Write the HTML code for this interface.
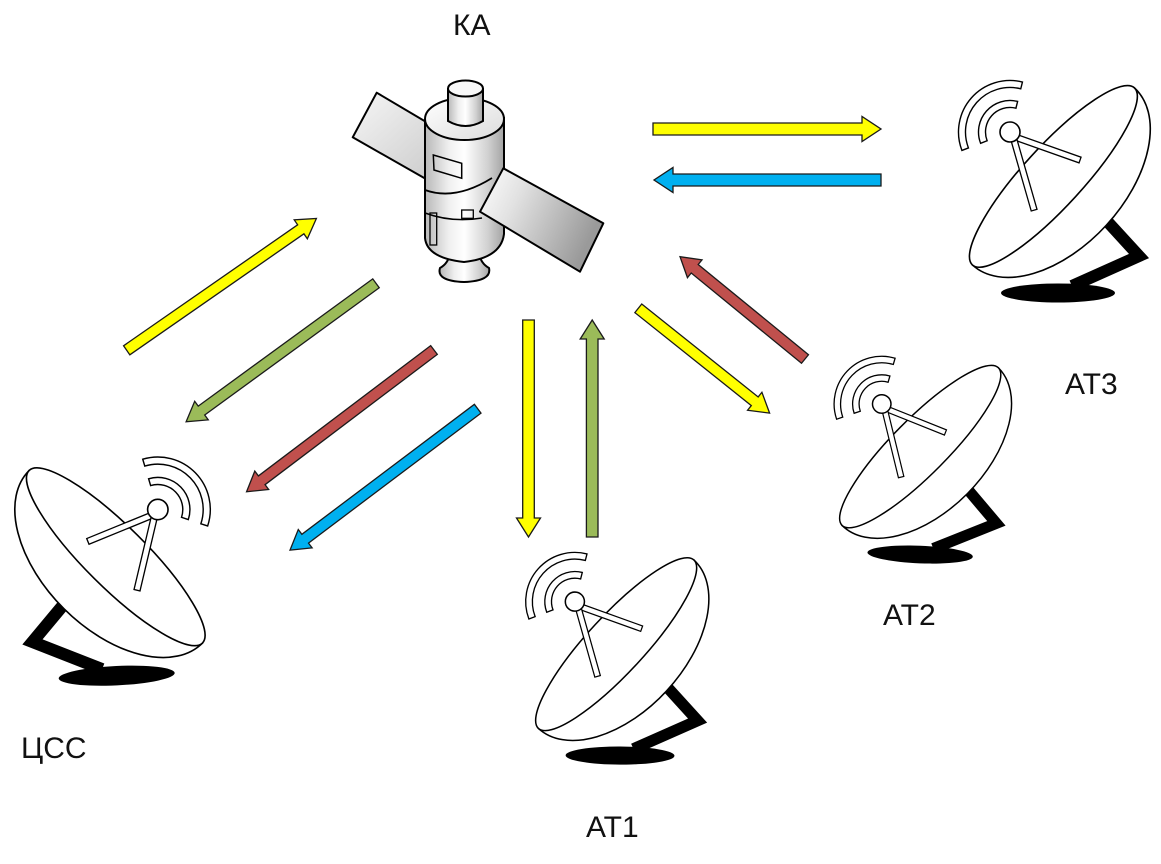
<!DOCTYPE html>
<html>
<head>
<meta charset="utf-8">
<style>
html,body{margin:0;padding:0;background:#fff;}
svg{display:block;}
text{font-family:"Liberation Sans", Arial, sans-serif;font-size:30px;fill:#111;}
</style>
</head>
<body>
<svg width="1161" height="864" viewBox="0 0 1161 864" xmlns="http://www.w3.org/2000/svg">
<defs>
  <linearGradient id="plL" x1="0" y1="0" x2="1" y2="1">
    <stop offset="0" stop-color="#f6f6f6"/>
    <stop offset="1" stop-color="#c4c4c4"/>
  </linearGradient>
  <linearGradient id="plR" x1="0" y1="0" x2="1" y2="0.4">
    <stop offset="0" stop-color="#ffffff"/>
    <stop offset="0.35" stop-color="#e2e2e2"/>
    <stop offset="1" stop-color="#9a9a9a"/>
  </linearGradient>
  <linearGradient id="bd" x1="0" y1="0" x2="1" y2="0">
    <stop offset="0" stop-color="#b8b8b8"/>
    <stop offset="0.3" stop-color="#efefef"/>
    <stop offset="0.5" stop-color="#ffffff"/>
    <stop offset="0.8" stop-color="#d0d0d0"/>
    <stop offset="1" stop-color="#a4a4a4"/>
  </linearGradient>
  <linearGradient id="tp" x1="0" y1="0" x2="1" y2="1">
    <stop offset="0" stop-color="#ffffff"/>
    <stop offset="1" stop-color="#dcdcdc"/>
  </linearGradient>

  <g id="dish">
    <ellipse cx="118" cy="233" rx="57" ry="9.5" fill="#000"/>
    <polyline points="166,160 199,196 132,226" fill="none" stroke="#000" stroke-width="12" stroke-linejoin="miter" stroke-miterlimit="10"/>
    <g transform="translate(107.5,111) rotate(-47.55)">
      <path d="M-120,8 A120,72 0 0 0 120,8 Z" fill="#fff" stroke="#000" stroke-width="1.6"/>
      <ellipse cx="0" cy="8" rx="120" ry="30" fill="#fff" stroke="#000" stroke-width="1.6"/>
    </g>
    <rect x="0" y="-3" width="69" height="6" transform="translate(75,77) rotate(19.5)" fill="#fff" stroke="#000" stroke-width="1.3"/>
    <rect x="0" y="-3" width="73" height="6" transform="translate(74,80) rotate(74)" fill="#fff" stroke="#000" stroke-width="1.3"/>
    <circle cx="70" cy="72" r="10" fill="#fff" stroke="#000" stroke-width="1.6"/>
    <path d="M21.92,90.46 A51.5,51.5 0 0 1 82.46,22.03 L80.76,28.82 A44.5,44.5 0 0 0 28.45,87.95 Z" fill="#fff" stroke="#000" stroke-width="1.4"/>
    <path d="M40.59,83.29 A31.5,31.5 0 0 1 77.62,41.44 L75.93,48.23 A24.5,24.5 0 0 0 47.13,80.78 Z" fill="#fff" stroke="#000" stroke-width="1.4"/>
  </g>
</defs>

<!-- Dishes -->
<use href="#dish" transform="translate(940,60)"/>
<use href="#dish" transform="translate(837,520) rotate(2.3) scale(0.925) translate(-26.7,-199.3)"/>
<use href="#dish" transform="translate(533,723) rotate(0.25) scale(0.955) translate(-26.7,-199.3)"/>
<use href="#dish" transform="translate(208,637) rotate(-2.7) scale(-1.019,1.019) translate(-26.7,-199.3)"/>

<!-- Satellite -->
<polygon points="376.7,92.7 352.7,137.3 440,187 460,142" fill="url(#plL)" stroke="#000" stroke-width="2" stroke-linejoin="round"/>
<path d="M450,252 Q449,263 440,268 Q436,281 464,282 Q492,281 489,268 Q480,263 479,252 Z" fill="url(#bd)" stroke="#000" stroke-width="2"/>
<path d="M425,120 L425,238 Q427,258 464,262 Q501,258 504,234 L504,118 Z" fill="url(#bd)" stroke="#000" stroke-width="2"/>
<ellipse cx="464.5" cy="119" rx="39.5" ry="21" fill="url(#tp)" stroke="#000" stroke-width="2"/>
<path d="M448,89 L448,121 Q465.5,131 483,121 L483,89 Z" fill="url(#bd)" stroke="#000" stroke-width="2"/>
<ellipse cx="465.5" cy="88.5" rx="17.5" ry="8" fill="#f8f8f8" stroke="#000" stroke-width="2"/>
<path d="M425,190 Q455,201 492,178" fill="none" stroke="#000" stroke-width="1.8"/>
<path d="M425,213 Q452,223 482,218" fill="none" stroke="#000" stroke-width="1.5"/>
<polygon points="433.3,155 461.7,163.3 461.7,178.3 434,170" fill="none" stroke="#000" stroke-width="1.5"/>
<rect x="461.7" y="210" width="11.6" height="8.3" fill="none" stroke="#000" stroke-width="1.3"/>
<rect x="430" y="213" width="6.7" height="32" fill="none" stroke="#000" stroke-width="1.3"/>
<polygon points="503.3,168.3 603.3,223.3 580,271.7 480,211.7" fill="url(#plR)" stroke="#000" stroke-width="2" stroke-linejoin="round"/>

<!-- Arrows -->
<g stroke="#1a1a1a" stroke-width="1.3" stroke-linejoin="miter">
  <polygon transform="translate(653,129)" points="0,-6 209,-6 209,-12.5 228,0 209,12.5 209,6 0,6" fill="#ffff00"/>
  <polygon transform="translate(881,180) rotate(180)" points="0,-6 208,-6 208,-12.5 227,0 208,12.5 208,6 0,6" fill="#00b0f0"/>
  <polygon transform="translate(126.7,350.3) rotate(-34.8)" points="0,-5.5 212,-5.5 212,-11.5 231,0 212,11.5 212,5.5 0,5.5" fill="#ffff00"/>
  <polygon transform="translate(376,283.3) rotate(143.9)" points="0,-5.5 216,-5.5 216,-11.5 235,0 216,11.5 216,5.5 0,5.5" fill="#9bbb59"/>
  <polygon transform="translate(434,350) rotate(142.9)" points="0,-5.5 216,-5.5 216,-11.5 235,0 216,11.5 216,5.5 0,5.5" fill="#c0504d"/>
  <polygon transform="translate(477.7,408.7) rotate(143)" points="0,-5.5 216,-5.5 216,-11.5 235,0 216,11.5 216,5.5 0,5.5" fill="#00b0f0"/>
  <polygon transform="translate(528.5,320) rotate(90)" points="0,-5.8 198,-5.8 198,-12 217,0 198,12 198,5.8 0,5.8" fill="#ffff00"/>
  <polygon transform="translate(592.2,537) rotate(-90)" points="0,-5.8 198,-5.8 198,-12 217,0 198,12 198,5.8 0,5.8" fill="#9bbb59"/>
  <polygon transform="translate(638.3,308.3) rotate(38.6)" points="0,-5.5 149,-5.5 149,-11.5 168,0 149,11.5 149,5.5 0,5.5" fill="#ffff00"/>
  <polygon transform="translate(805,359) rotate(-140.7)" points="0,-5.5 142.5,-5.5 142.5,-11.5 161.5,0 142.5,11.5 142.5,5.5 0,5.5" fill="#c0504d"/>
</g>

<!-- Labels -->
<text x="453" y="35">КА</text>
<text x="1065" y="394">АТ3</text>
<text x="883" y="625">АТ2</text>
<text x="586" y="837">АТ1</text>
<text x="21" y="758">ЦСС</text>
</svg>
</body>
</html>
